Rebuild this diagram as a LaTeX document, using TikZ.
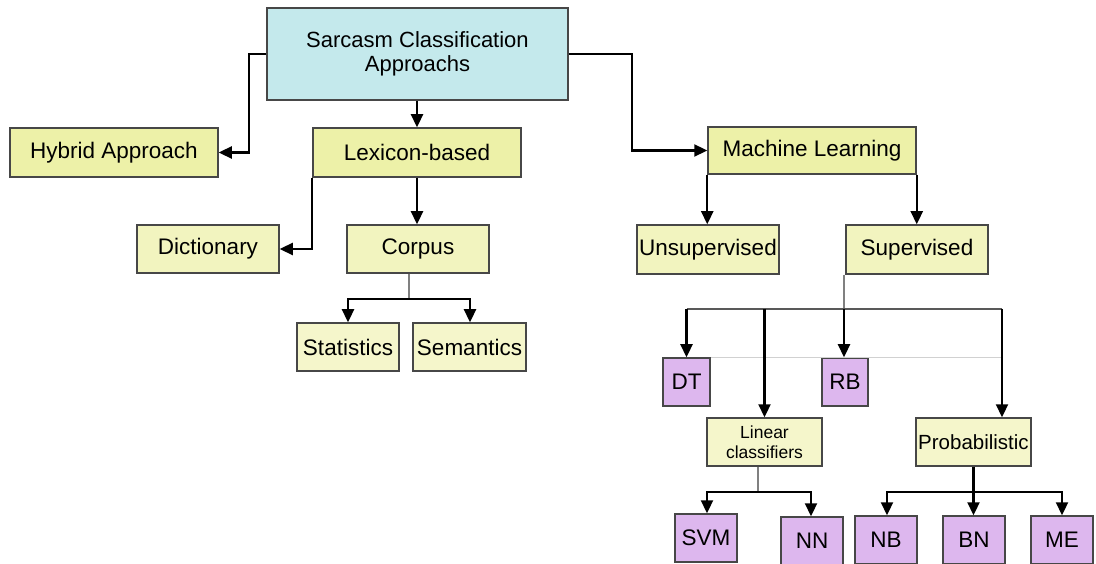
\documentclass[tikz,border=0pt]{standalone}
\usepackage{fontspec}
\setmainfont{Liberation Sans}
\usetikzlibrary{arrows.meta}
\definecolor{cyanfill}{HTML}{C4E9EC}
\definecolor{yfillA}{HTML}{EDF1A8}
\definecolor{yfillB}{HTML}{F2F4BF}
\definecolor{yfillC}{HTML}{F5F6CB}
\definecolor{pfill}{HTML}{DDB7EE}
\definecolor{edge}{HTML}{474747}
\tikzset{
  box/.style={draw=edge, line width=1.5pt, rectangle, inner sep=0pt, align=center,
    font=\fontsize{22.5}{24}\selectfont},
  topbox/.style={box, fill=cyanfill, font=\fontsize{22}{24.5}\selectfont},
  ybA/.style={box, fill=yfillA},
  ybB/.style={box, fill=yfillB},
  ybC/.style={box, fill=yfillC},
  pbox/.style={box, fill=pfill},
  arr/.style={draw=black, line width=2.3pt, -{Triangle[length=13pt,width=12pt]}},
  feed/.style={draw=gray, line width=1.1pt},
  bar/.style={draw=black!65, line width=1.7pt},
  ghost/.style={draw=black!18, line width=1pt}
}
\begin{document}
\begin{tikzpicture}[x=1pt,y=-1pt]
\useasboundingbox (0,0) rectangle (1096,564);
\clip (0,0) rectangle (1096,564);

% root and first level
\node[topbox, minimum width=301, minimum height=92] (top) at (417.5,54) {Sarcasm Classification\\Approachs};
\node[ybA, minimum width=208, minimum height=49] (hyb) at (114,152.5) {Hybrid Approach};
\node[ybA, minimum width=208, minimum height=49] (lex) at (417,152.5) {Lexicon-based};
\node[ybA, minimum width=208, minimum height=47] (ml) at (812,150.5) {Machine Learning};

% lexicon branch
\node[ybB, minimum width=142, minimum height=48] (dict) at (208,249) {Dictionary};
\node[ybB, minimum width=142, minimum height=48] (corp) at (418,249) {Corpus};
\node[ybC, minimum width=102, minimum height=48] (stat) at (348,347) {Statistics};
\node[ybC, minimum width=113, minimum height=48] (sem) at (469.5,347) {Semantics};

% machine learning branch
\node[ybB, minimum width=142, minimum height=49] (unsup) at (708,249.5) {Unsupervised};
\node[ybB, minimum width=142, minimum height=49] (sup) at (917,249.5) {Supervised};
\node[pbox, minimum width=47, minimum height=48] (dt) at (686.5,382) {DT};
\node[pbox, minimum width=46, minimum height=48] (rb) at (845,382) {RB};
\node[ybC, minimum width=115, minimum height=48, font=\fontsize{17.5}{20}\selectfont] (lin) at (764.5,442) {Linear\\classifiers};
\node[ybC, minimum width=115, minimum height=48, font=\fontsize{20.5}{24}\selectfont] (prob) at (973.5,442) {Probabilistic};
\node[pbox, minimum width=62, minimum height=48] (svm) at (706,538) {SVM};
\node[pbox, minimum width=62, minimum height=48] (nn) at (812,541) {NN};
\node[pbox, minimum width=62, minimum height=48] (nb) at (886,540) {NB};
\node[pbox, minimum width=62, minimum height=48] (bn) at (974,540) {BN};
\node[pbox, minimum width=62, minimum height=48] (me) at (1062,540) {ME};

% root connectors
\draw[arr] (top.west) -- ++(-17,0) |- (hyb.east);
\draw[arr] (lex.north |- top.south) -- (lex.north);
\draw[arr] (top.east) -- ++(63,0) |- (ml.west);

% lexicon connectors
\draw[arr] (lex.south west) |- (dict.east);
\draw[arr] (lex.south) -- (lex.south |- corp.north);
\coordinate (cs) at (409,299);
\draw[feed] (cs |- corp.south) -- (cs);
\draw[arr] (cs) -| (stat.north);
\draw[arr] (cs) -| ([xshift=0.5pt]sem.north);

% machine learning connectors
\draw[arr] (ml.south west) -- (ml.south west |- unsup.north);
\draw[arr] (ml.south east) -- (ml.south east |- sup.north);

% supervised fan-out
\coordinate (sv) at (844,309);
\coordinate (pr) at ([xshift=28.5pt]prob.north);
\draw[ghost] (dt.north east) -- (pr |- dt.north);
\draw[feed] (sv |- sup.south) -- (sv);
\draw[bar] (sv -| dt.north) -- (sv -| pr);
\draw[arr] (sv -| dt.north) -- (dt.north);
\draw[arr] (sv -| lin.north) -- (lin.north);
\draw[arr] (sv) -- (sv |- rb.north);
\draw[arr] (sv -| pr) -- (pr);

% linear classifiers
\coordinate (lc) at (758,492);
\draw[feed] (lc |- lin.south) -- (lc);
\draw[arr] (lc) -| ([xshift=1pt]svm.north);
\draw[arr] (lc) -| ([xshift=-1pt]nn.north);

% probabilistic
\coordinate (pc) at (973.5,492);
\draw[arr] (prob.south) -- (prob.south |- bn.north);
\draw[arr] (pc) -| ([xshift=1pt]nb.north);
\draw[arr] (pc) -| (me.north);
\end{tikzpicture}
\end{document}
